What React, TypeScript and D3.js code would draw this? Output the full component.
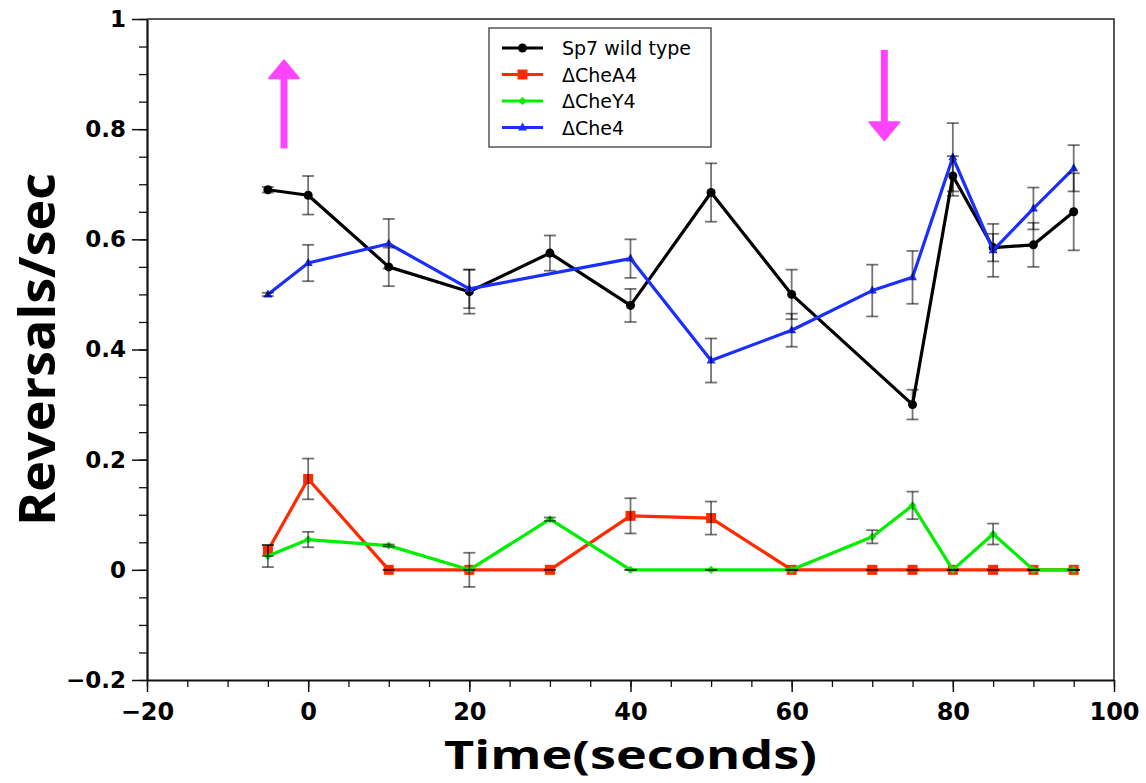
import React, { useEffect, useRef } from "react";
import * as d3 from "d3";

// time points (seconds) per strain
const timeWT = [-5, 0, 10, 20, 30, 40, 50, 60, 75, 80, 85, 90, 95];
const meanWT = [0.69, 0.68, 0.55, 0.505, 0.575, 0.48, 0.685, 0.5, 0.3, 0.715, 0.585, 0.59, 0.65];
const errWT = [0.005, 0.035, 0.035, 0.04, 0.032, 0.03, 0.053, 0.045, 0.027, 0.036, 0.025, 0.04, 0.07];

const timeCheA = [-5, 0, 10, 20, 30, 40, 50, 60, 70, 75, 80, 85, 90, 95];
const meanCheA = [0.035, 0.165, 0, 0, 0, 0.098, 0.094, 0, 0, 0, 0, 0, 0, 0];
const errCheA = [0.01, 0.037, 0, 0, 0, 0.032, 0.03, 0, 0, 0, 0, 0, 0, 0];

const timeCheY = [-5, 0, 10, 20, 30, 40, 50, 60, 70, 75, 80, 85, 90, 95];
const meanCheY = [0.025, 0.055, 0.044, 0, 0.092, 0, 0, 0, 0.06, 0.117, 0, 0.065, 0, 0];
const errCheY = [0.02, 0.014, 0.002, 0.031, 0.003, 0, 0, 0, 0.012, 0.025, 0, 0.019, 0, 0];

const timeChe4 = [-5, 0, 10, 20, 40, 50, 60, 70, 75, 80, 85, 90, 95];
const meanChe4 = [0.5, 0.557, 0.592, 0.51, 0.565, 0.38, 0.435, 0.507, 0.531, 0.749, 0.58, 0.656, 0.729];
const errChe4 = [0.003, 0.033, 0.045, 0.035, 0.035, 0.04, 0.03, 0.047, 0.048, 0.062, 0.048, 0.038, 0.042];

const seriesNames = ["Sp7 wild type", "\u0394CheA4", "\u0394CheY4", "\u0394Che4"];
const seriesColors = ["#000000", "#ff2a00", "#00ee00", "#1a2eff"];
const seriesMarkers = ["circle", "square", "diamond", "triangle"];

// stimulus arrows: x position, tail value, head value
const arrowX = [-3, 71.5];
const arrowFrom = [0.765, 0.944];
const arrowTo = [0.925, 0.78];

const xTicks = [-20, 0, 20, 40, 60, 80, 100];
const yTicks = [-0.2, 0, 0.2, 0.4, 0.6, 0.8, 1];

const W = 1146;
const H = 783;

const App: React.FC = () => {
  const ref = useRef<SVGSVGElement>(null);

  useEffect(() => {
    if (!ref.current) return;
    const svg = d3.select(ref.current);
    svg.selectAll("*").remove();

    const margin = { top: 19, right: 32, bottom: 103, left: 147 };
    const width = W - margin.left - margin.right;
    const height = H - margin.top - margin.bottom;

    const x = d3.scaleLinear().domain([-20, 100]).range([0, width]);
    const y = d3.scaleLinear().domain([-0.2, 1]).range([height, 0]);

    svg.append("rect").attr("width", W).attr("height", H).attr("fill", "#fff");

    const g = svg.append("g").attr("transform", `translate(${margin.left},${margin.top})`);

    // frame top / right
    g.append("path")
      .attr("d", `M0,0H${width}V${height}`)
      .attr("fill", "none")
      .attr("stroke", "#222")
      .attr("stroke-width", 1.5);

    // minor ticks
    const xMinor = d3.range(-20, 100.001, 5);
    const yMinor = d3.range(-0.2, 1.0001, 0.05);

    g.append("g")
      .attr("transform", `translate(0,${height})`)
      .call(d3.axisBottom(x).tickValues(xMinor).tickSize(7).tickFormat(() => ""))
      .call((a) => a.select(".domain").remove())
      .selectAll("line")
      .attr("stroke", "#111")
      .attr("stroke-width", 1.3);

    g.append("g")
      .call(d3.axisLeft(y).tickValues(yMinor).tickSize(8).tickFormat(() => ""))
      .call((a) => a.select(".domain").remove())
      .selectAll("line")
      .attr("stroke", "#111")
      .attr("stroke-width", 1.3);

    // major axes
    const xAxis = g
      .append("g")
      .attr("transform", `translate(0,${height})`)
      .call(d3.axisBottom(x).tickValues(xTicks).tickSize(12).tickSizeOuter(0).tickPadding(11));
    xAxis.select(".domain").attr("stroke", "#111").attr("stroke-width", 2.2);
    xAxis.selectAll("line").attr("stroke", "#111").attr("stroke-width", 1.5);
    xAxis
      .selectAll("text")
      .attr("fill", "#000")
      .style("font-family", "'DejaVu Sans', sans-serif")
      .style("font-weight", "bold")
      .style("font-size", "24px");

    const yAxis = g
      .append("g")
      .call(
        d3
          .axisLeft(y)
          .tickValues(yTicks)
          .tickSize(15)
          .tickSizeOuter(0)
          .tickPadding(6)
          .tickFormat((d) => d3.format("")(+(+d).toFixed(1)))
      );
    yAxis.select(".domain").attr("stroke", "#111").attr("stroke-width", 2.2);
    yAxis.selectAll("line").attr("stroke", "#111").attr("stroke-width", 1.5);
    yAxis
      .selectAll("text")
      .attr("fill", "#000")
      .style("font-family", "'DejaVu Sans', sans-serif")
      .style("font-weight", "bold")
      .style("font-size", "23px");

    // axis titles
    svg
      .append("text")
      .attr("x", margin.left + x(40))
      .attr("y", 769)
      .attr("text-anchor", "middle")
      .attr("textLength", 373)
      .attr("lengthAdjust", "spacingAndGlyphs")
      .style("font-family", "'Open Sans', sans-serif")
      .style("font-weight", "bold")
      .style("font-size", "39px")
      .text("Time(seconds)");

    svg
      .append("text")
      .attr("transform", `translate(55,${margin.top + y(0.4)}) rotate(-90)`)
      .attr("text-anchor", "middle")
      .attr("textLength", 353)
      .attr("lengthAdjust", "spacingAndGlyphs")
      .style("font-family", "'Open Sans', sans-serif")
      .style("font-weight", "bold")
      .style("font-size", "50px")
      .text("Reversals/sec");

    // arrows
    const arrows = arrowX.map((ax, i) => ({ x: ax, from: arrowFrom[i], to: arrowTo[i] }));
    arrows.forEach((a) => {
      const px = x(a.x);
      const y0 = y(a.from);
      const y1 = y(a.to);
      const dir = y1 < y0 ? -1 : 1;
      const headLen = 18;
      const yb = y1 - dir * headLen;
      g.append("line")
        .attr("x1", px)
        .attr("x2", px)
        .attr("y1", y0)
        .attr("y2", yb)
        .attr("stroke", "#ff44ff")
        .attr("stroke-width", 7);
      g.append("path")
        .attr("d", `M${px - 15},${yb}L${px + 15},${yb}L${px},${y1}Z`)
        .attr("fill", "#ff44ff")
        .attr("stroke", "#ff44ff")
        .attr("stroke-width", 2)
        .attr("stroke-linejoin", "round");
    });

    const series = [
      { t: timeWT, m: meanWT, e: errWT },
      { t: timeCheA, m: meanCheA, e: errCheA },
      { t: timeCheY, m: meanCheY, e: errCheY },
      { t: timeChe4, m: meanChe4, e: errChe4 },
    ].map((s, i) => ({
      name: seriesNames[i],
      color: seriesColors[i],
      marker: seriesMarkers[i],
      pts: s.t.map((t, j) => ({ t, v: s.m[j], e: s.e[j] })),
    }));

    const line = d3
      .line<{ t: number; v: number }>()
      .x((d) => x(d.t))
      .y((d) => y(d.v));

    const drawMarker = (sel: any, kind: string, color: string, cx: number, cy: number) => {
      if (kind === "circle") {
        sel.append("circle").attr("cx", cx).attr("cy", cy).attr("r", 4.5).attr("fill", color);
      } else if (kind === "square") {
        sel.append("rect").attr("x", cx - 5).attr("y", cy - 5).attr("width", 10).attr("height", 10).attr("fill", color);
      } else if (kind === "diamond") {
        sel.append("path").attr("d", `M${cx},${cy - 4}L${cx + 4},${cy}L${cx},${cy + 4}L${cx - 4},${cy}Z`).attr("fill", color);
      } else {
        sel.append("path").attr("d", `M${cx},${cy - 5}L${cx + 4.5},${cy + 3}L${cx - 4.5},${cy + 3}Z`).attr("fill", color);
      }
    };

    const order = [1, 2, 0, 3];
    order.forEach((i) => {
      const s = series[i];
      g.append("path")
        .datum(s.pts)
        .attr("d", line)
        .attr("fill", "none")
        .attr("stroke", s.color)
        .attr("stroke-width", 3.2)
        .attr("stroke-linejoin", "round");
      s.pts.forEach((p) => drawMarker(g, s.marker, s.color, x(p.t), y(p.v)));
    });

    // error bars on top
    series.forEach((s) => {
      s.pts.forEach((p) => {
        const px = x(p.t);
        const top = y(p.v + p.e);
        const bot = y(p.v - p.e);
        const eb = g.append("g").attr("stroke", "#000").attr("stroke-opacity", 0.55).attr("stroke-width", 1.8);
        eb.append("line").attr("x1", px).attr("x2", px).attr("y1", top).attr("y2", bot);
        eb.append("line").attr("x1", px - 6).attr("x2", px + 6).attr("y1", top).attr("y2", top);
        eb.append("line").attr("x1", px - 6).attr("x2", px + 6).attr("y1", bot).attr("y2", bot);
      });
    });

    // legend
    const lg = svg.append("g").attr("transform", "translate(489,28)");
    lg.append("rect")
      .attr("width", 222)
      .attr("height", 119)
      .attr("fill", "#fff")
      .attr("stroke", "#555")
      .attr("stroke-width", 1.5);
    series.forEach((s, i) => {
      const ly = 20 + i * 26.5;
      lg.append("line")
        .attr("x1", 13)
        .attr("x2", 54)
        .attr("y1", ly)
        .attr("y2", ly)
        .attr("stroke", s.color)
        .attr("stroke-width", 3.2);
      drawMarker(lg, s.marker, s.color, 33.5, ly);
      lg.append("text")
        .attr("x", 73)
        .attr("y", ly + 7)
        .style("font-family", "'DejaVu Sans', sans-serif")
        .style("font-size", "19px")
        .attr("fill", "#000")
        .text(s.name);
    });
  }, []);

  return (
    <svg
      ref={ref}
      width={W}
      height={H}
      style={{ position: "absolute", left: 0, top: 0, display: "block" }}
    />
  );
};

export default App;
